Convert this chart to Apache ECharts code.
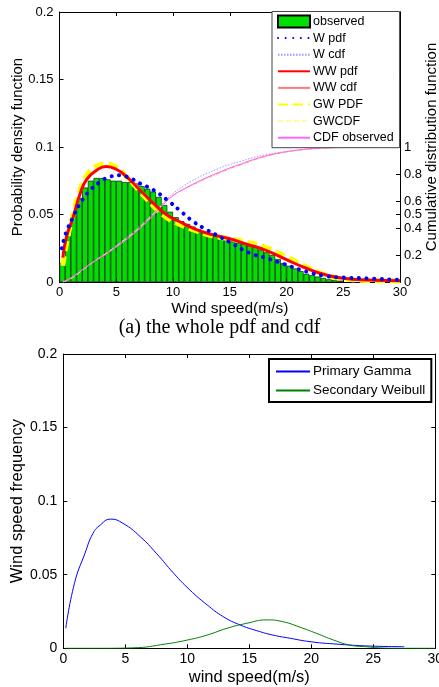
<!DOCTYPE html>
<html><head><meta charset="utf-8">
<script src="https://cdn.jsdelivr.net/npm/echarts@6/dist/echarts.min.js"></script>
<style>html,body{margin:0;padding:0;background:#fff}#c{width:439px;height:687px}</style>
</head><body><div id="c"></div>
<script>
// ---- Top chart: histogram (bin centres, 0.5 m/s bins) ----
const binCenters = [0.25,0.75,1.25,1.75,2.25,2.75,3.25,3.75,4.25,4.75,5.25,5.75,6.25,6.75,7.25,7.75,8.25,8.75,9.25,9.75,10.25,10.75,11.25,11.75,12.25,12.75,13.25,13.75,14.25,14.75,15.25,15.75,16.25,16.75,17.25,17.75,18.25,18.75,19.25,19.75,20.25,20.75,21.25,21.75,22.25,22.75,23.25,23.75,24.25,24.75];
const observed = [0.014,0.034,0.050,0.062,0.070,0.075,0.077,0.077,0.076,0.075,0.075,0.074,0.074,0.073,0.071,0.069,0.067,0.063,0.057,0.052,0.048,0.045,0.043,0.041,0.039,0.037,0.035,0.034,0.032,0.031,0.030,0.029,0.028,0.027,0.026,0.024,0.022,0.020,0.017,0.014,0.012,0.010,0.008,0.006,0.005,0.004,0.003,0.002,0.0015,0.001];

// pdf curves
const pdfX  = [0.3,0.6,1.2,1.8,2.4,3.3,4.1,5,5.9,7.1,8.3,9.4,10.5,12,13.5,15,16.5,18.2,20,21.8,23.5,25,27,30];
const wwPdf = [0.018,0.033,0.048,0.065,0.076,0.083,0.0855,0.0835,0.078,0.068,0.058,0.050,0.045,0.039,0.035,0.032,0.028,0.0235,0.0165,0.010,0.0052,0.0027,0.0015,0.001];
const gwPdf = [0.012,0.028,0.050,0.068,0.079,0.086,0.0875,0.085,0.078,0.067,0.056,0.048,0.043,0.038,0.034,0.032,0.0295,0.0255,0.0185,0.011,0.005,0.0025,0.0012,0.0008];
const wPdfX = [0.2,0.6,1.2,1.8,2.7,3.6,4.45,5.3,6.2,7.1,8.3,9.45,10.6,11.8,13,14.1,15,16.8,18.3,20,21.8,23.5,25,27,30];
const wPdf  = [0.025,0.037,0.048,0.058,0.068,0.0743,0.078,0.079,0.077,0.073,0.068,0.061,0.053,0.0447,0.0385,0.0336,0.0295,0.0213,0.0176,0.0126,0.0076,0.0044,0.0033,0.0027,0.0015];

// cdf curves (right axis)
const cdfX   = [0.3,1,2,3,4,5,6,7,8,9,10,11,12,13,14,15,16,17,18,19,20,21,22,23,24,25,27,30];
const cdfObs = [0,0.03,0.09,0.15,0.2,0.26,0.32,0.39,0.47,0.56,0.64,0.69,0.735,0.775,0.81,0.845,0.875,0.905,0.93,0.95,0.965,0.977,0.986,0.992,0.996,0.998,1,1];
const wCdf   = [0,0.03,0.09,0.15,0.21,0.27,0.34,0.41,0.49,0.575,0.655,0.715,0.765,0.805,0.84,0.87,0.895,0.92,0.94,0.955,0.967,0.977,0.985,0.99,0.994,0.996,0.998,0.999];
const wwCdf  = [0,0.03,0.09,0.15,0.205,0.26,0.325,0.395,0.475,0.565,0.64,0.69,0.73,0.77,0.805,0.84,0.87,0.9,0.927,0.948,0.964,0.976,0.985,0.991,0.995,0.997,0.999,1];
const gwCdf  = [0,0.025,0.085,0.15,0.205,0.265,0.33,0.4,0.48,0.565,0.64,0.69,0.73,0.77,0.805,0.84,0.87,0.9,0.925,0.946,0.963,0.975,0.984,0.99,0.995,0.997,0.999,1];

const rightTicks = [0,0.2,0.4,0.5,0.6,0.8,1];

// ---- Bottom chart ----
const gammaX  = [0.2,0.9,1.75,2.4,3,3.8,4.8,6.2,7.5,8.9,10.2,11.6,12.9,14.25,15.6,16.9,18.3,19.9,21.8,24.8,27.5];
const gamma   = [0.0136,0.0442,0.0646,0.0782,0.0839,0.0878,0.085,0.0759,0.0646,0.051,0.0397,0.0295,0.0215,0.0159,0.012,0.009,0.0068,0.0045,0.003,0.0015,0.0011];
const weibullX = [0.2,3,5.6,8.3,10,11.6,13.2,14.8,16.4,17.7,19.1,20.4,21.8,23.1,24.5,25.5,27,30];
const weibull  = [0,0,0.0003,0.003,0.0056,0.009,0.0136,0.017,0.0193,0.0181,0.0143,0.0102,0.0056,0.0022,0.001,0.0003,0,0];

const zip = (xs, ys) => xs.map((x, i) => [x, ys[i]]);

const FONT = 'Liberation Sans, Arial, sans-serif';
const G0 = {left: 59.5, top: 12, width: 340.5, height: 270};
const G1 = {left: 63.3, top: 354, width: 372, height: 294.3};
const binPx = 0.5 * G0.width / 30;

function xAx(grid, pos, show, fs, name, gap) {
  return {
    type: 'value', gridIndex: grid, position: pos, min: 0, max: 30, interval: 5,
    axisLine: {show: true, onZero: false, lineStyle: {color: '#000', width: 1}},
    axisTick: {show: true, inside: true, length: 4, lineStyle: {color: '#000'}},
    axisLabel: {show: show, color: '#000', fontFamily: FONT, fontSize: fs, margin: 4, hideOverlap: false},
    splitLine: {show: false},
    name: name || '', nameLocation: 'middle', nameGap: gap || 0,
    nameTextStyle: {color: '#000', fontFamily: FONT, fontSize: fs + 2.5}
  };
}
function yAx(grid, pos, show, fs, opt) {
  return Object.assign({
    type: 'value', gridIndex: grid, position: pos, min: 0, max: 0.2, interval: 0.05,
    axisLine: {show: true, onZero: false, lineStyle: {color: '#000', width: 1}},
    axisTick: {show: true, inside: true, length: 4, lineStyle: {color: '#000'}},
    axisLabel: {show: show, color: '#000', fontFamily: FONT, fontSize: fs, margin: 6},
    splitLine: {show: false},
    nameMoveOverlap: false
  }, opt || {});
}
const lineItem = c => ({color: c, opacity: 0});

const option = {
  animation: false,
  backgroundColor: '#fff',
  grid: [
    Object.assign({containLabel: false, outerBoundsMode: 'none'}, G0),
    Object.assign({containLabel: false, outerBoundsMode: 'none'}, G1)
  ],
  xAxis: [
    xAx(0, 'bottom', true, 13, 'Wind speed(m/s)', 19),
    xAx(0, 'top', false, 13),
    xAx(1, 'bottom', true, 14, 'wind speed(m/s)', 21),
    xAx(1, 'top', false, 14)
  ],
  yAxis: [
    yAx(0, 'left', true, 13, {name: 'Probability density function', nameLocation: 'middle', nameGap: 34,
      nameTextStyle: {color: '#000', fontFamily: FONT, fontSize: 15}}),
    yAx(0, 'right', true, 13, {min: 0, max: 2, interval: 0.1,
      axisTick: {show: true, inside: true, length: 4, lineStyle: {color: '#000'}, customValues: rightTicks},
      axisLabel: {show: true, color: '#000', fontFamily: FONT, fontSize: 13, margin: 4, customValues: rightTicks,
        formatter: v => rightTicks.some(t => Math.abs(t - v) < 1e-6) ? String(+v.toFixed(2)) : ''},
      name: 'Cumulative distribution function', nameLocation: 'middle', nameGap: 24,
      nameTextStyle: {color: '#000', fontFamily: FONT, fontSize: 15}}),
    yAx(0, 'right', false, 13),
    yAx(1, 'left', true, 14, {name: 'Wind speed frequency', nameLocation: 'middle', nameGap: 37,
      nameTextStyle: {color: '#000', fontFamily: FONT, fontSize: 16.5}}),
    yAx(1, 'right', false, 14)
  ],
  legend: [
    {
      orient: 'vertical', left: 272, top: 11.5, width: 126,
      backgroundColor: '#fff', borderColor: '#444', borderWidth: 1,
      padding: [3, 6, 3, 5], itemGap: 2.6, itemWidth: 32, itemHeight: 12,
      selectedMode: false,
      textStyle: {color: '#000', fontFamily: FONT, fontSize: 12.5, lineHeight: 14, padding: [0, 0, 0, -2]},
      data: [{name: 'observed', icon: 'rect'},'W pdf','W cdf','WW pdf','WW cdf','GW PDF','GWCDF','CDF observed']
    },
    {
      orient: 'vertical', left: 269, top: 359, width: 158,
      backgroundColor: '#fff', borderColor: '#000', borderWidth: 2,
      padding: [5, 6, 4, 6], itemGap: 4, itemWidth: 34, itemHeight: 12,
      selectedMode: false,
      textStyle: {color: '#000', fontFamily: FONT, fontSize: 13.5, lineHeight: 15, padding: [0, 0, 0, -2]},
      data: ['Primary Gamma','Secondary Weibull']
    }
  ],
  series: [
    {name: 'observed', type: 'bar', xAxisIndex: 0, yAxisIndex: 0, barWidth: binPx, z: 1,
      itemStyle: {color: '#00e000', borderColor: '#000', borderWidth: 0.6},
      data: zip(binCenters, observed)},
    {name: 'GW PDF', type: 'line', xAxisIndex: 0, yAxisIndex: 0, symbol: 'none', smooth: true, z: 3,
      lineStyle: {color: '#ffff00', width: 5, type: [10, 5]}, itemStyle: lineItem('#ffff00'),
      data: zip(pdfX, gwPdf)},
    {name: 'WW pdf', type: 'line', xAxisIndex: 0, yAxisIndex: 0, symbol: 'none', smooth: true, z: 4,
      lineStyle: {color: '#ff0000', width: 3}, itemStyle: lineItem('#ff0000'),
      data: zip(pdfX, wwPdf)},
    {name: 'W pdf', type: 'line', xAxisIndex: 0, yAxisIndex: 0, symbol: 'none', smooth: true, z: 5,
      lineStyle: {color: '#0000ff', width: 4, type: [0.1, 7.5], cap: 'round'}, itemStyle: lineItem('#0000ff'),
      data: zip(wPdfX, wPdf)},
    {name: 'W cdf', type: 'line', xAxisIndex: 0, yAxisIndex: 1, symbol: 'none', smooth: true, z: 3,
      lineStyle: {color: '#9a9aff', width: 1, type: [1.5, 1.5]}, itemStyle: lineItem('#9a9aff'),
      data: zip(cdfX, wCdf)},
    {name: 'WW cdf', type: 'line', xAxisIndex: 0, yAxisIndex: 1, symbol: 'none', smooth: true, z: 3,
      lineStyle: {color: '#ff7a7a', width: 1}, itemStyle: lineItem('#ff7a7a'),
      data: zip(cdfX, wwCdf)},
    {name: 'GWCDF', type: 'line', xAxisIndex: 0, yAxisIndex: 1, symbol: 'none', smooth: true, z: 3,
      lineStyle: {color: '#ffff99', width: 1, type: [5, 3]}, itemStyle: lineItem('#ffff99'),
      data: zip(cdfX, gwCdf)},
    {name: 'CDF observed', type: 'line', xAxisIndex: 0, yAxisIndex: 1, symbol: 'none', smooth: true, z: 3,
      lineStyle: {color: '#ff66ff', width: 1}, itemStyle: lineItem('#ff66ff'),
      data: zip(cdfX, cdfObs)},
    {name: 'Primary Gamma', type: 'line', xAxisIndex: 2, yAxisIndex: 3, symbol: 'none', smooth: true,
      lineStyle: {color: '#0000ff', width: 1}, itemStyle: lineItem('#0000ff'),
      data: zip(gammaX, gamma)},
    {name: 'Secondary Weibull', type: 'line', xAxisIndex: 2, yAxisIndex: 3, symbol: 'none', smooth: true,
      lineStyle: {color: '#008000', width: 1}, itemStyle: lineItem('#008000'),
      data: zip(weibullX, weibull)}
  ],
  graphic: [
    {type: 'text', left: 'center', top: 318, style: {text: '(a) the whole pdf and cdf', fill: '#000',
      font: '20px "Liberation Serif", "Times New Roman", serif'}}
  ]
};

const chart = echarts.init(document.getElementById('c'), null, {renderer: 'canvas'});
chart.setOption(option);
</script>
</body></html>
